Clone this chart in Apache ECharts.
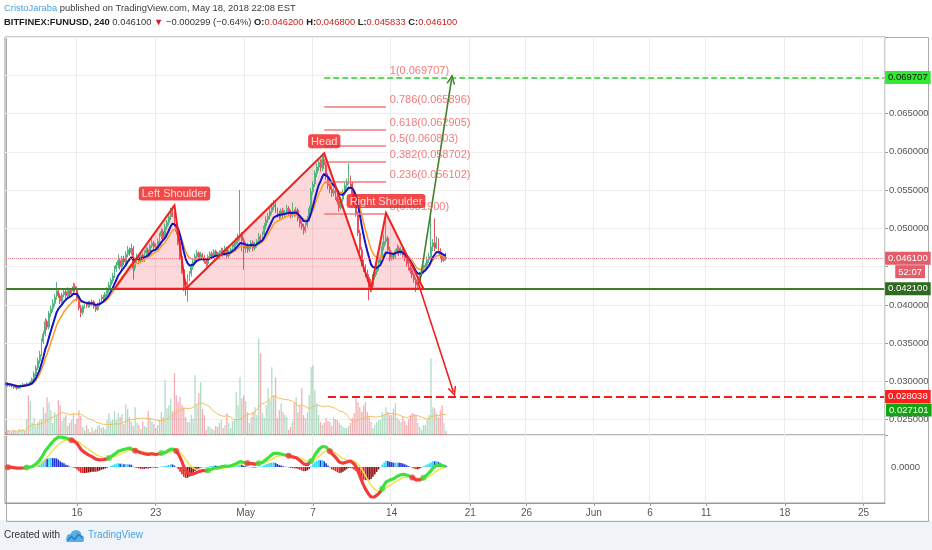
<!DOCTYPE html>
<html lang="en">
<head>
<meta charset="UTF-8">
<title>BITFINEX:FUNUSD 240</title>
<script src="https://cdn.jsdelivr.net/npm/echarts/dist/echarts.min.js"></script>
<style>
    html, body { margin: 0; padding: 0; background: #fff; }
    #main { width: 932px; height: 550px; }
</style>
</head>
<body>
<div id="main"></div>
<script>
// 4h bars, first slot 2018-04-09 16:00
const firstBar = '2018-04-09T16:00:00Z';
const slotCount = 470;
const firstOpen = 0.0298;

const closes = [
    0.0297, 0.0295,
    0.0296, 0.0294, 0.0292, 0.0293, 0.0291, 0.0293,
    0.0294, 0.0296, 0.0295, 0.0297, 0.0296, 0.0299,
    0.0303, 0.0310, 0.0318, 0.0327, 0.0335, 0.0352,
    0.0362, 0.0378, 0.0371, 0.0389, 0.0395, 0.0402,
    0.0410, 0.0418, 0.0412, 0.0405, 0.0413, 0.0417,
    0.0412, 0.0419, 0.0414, 0.0418, 0.0424, 0.0421,
    0.0408, 0.0396, 0.0390, 0.0398, 0.0401, 0.0399,
    0.0402, 0.0400, 0.0404, 0.0398, 0.0394, 0.0401,
    0.0405, 0.0410, 0.0408, 0.0414, 0.0419, 0.0426,
    0.0432, 0.0438, 0.0447, 0.0452, 0.0458, 0.0450,
    0.0461, 0.0456, 0.0466, 0.0472, 0.0468, 0.0474,
    0.0448, 0.0459, 0.0463, 0.0457, 0.0465, 0.0460,
    0.0468, 0.0472, 0.0466, 0.0477, 0.0481, 0.0476,
    0.0474, 0.0483, 0.0490, 0.0496, 0.0488, 0.0502,
    0.0508, 0.0515, 0.0522, 0.0519, 0.0505, 0.0496,
    0.0482, 0.0463, 0.0446, 0.0430, 0.0426, 0.0436,
    0.0441, 0.0450, 0.0456, 0.0463, 0.0468, 0.0461,
    0.0466, 0.0462, 0.0457, 0.0454, 0.0463, 0.0467,
    0.0464, 0.0470, 0.0466, 0.0462, 0.0468, 0.0471,
    0.0467, 0.0473, 0.0464, 0.0469, 0.0472, 0.0476,
    0.0479, 0.0483, 0.0488, 0.0492, 0.0484, 0.0474,
    0.0478, 0.0472, 0.0476, 0.0481, 0.0474, 0.0479,
    0.0483, 0.0489, 0.0486, 0.0492, 0.0503, 0.0511,
    0.0516, 0.0522, 0.0528, 0.0531, 0.0524, 0.0519,
    0.0516, 0.0523, 0.0518, 0.0521, 0.0526, 0.0520,
    0.0517, 0.0522, 0.0519, 0.0524, 0.0513, 0.0506,
    0.0502, 0.0497, 0.0504, 0.0512, 0.0526, 0.0548,
    0.0558, 0.0572, 0.0580, 0.0586, 0.0579, 0.0590,
    0.0583, 0.0568, 0.0556, 0.0551, 0.0546, 0.0549,
    0.0541, 0.0535, 0.0527, 0.0538, 0.0547, 0.0556,
    0.0561, 0.0566, 0.0558, 0.0545, 0.0533, 0.0519,
    0.0494, 0.0472, 0.0455, 0.0448, 0.0441, 0.0436,
    0.0429, 0.0424, 0.0437, 0.0443, 0.0449, 0.0455,
    0.0461, 0.0476, 0.0483, 0.0487, 0.0472, 0.0462,
    0.0466, 0.0463, 0.0470, 0.0474, 0.0468, 0.0472,
    0.0465, 0.0461, 0.0454, 0.0449, 0.0445, 0.0439,
    0.0433, 0.0426, 0.0431, 0.0440, 0.0444, 0.0449,
    0.0452, 0.0459, 0.0463, 0.0476, 0.0481, 0.0474,
    0.0484, 0.0470, 0.0465, 0.0458, 0.0462, 0.0461
];
const highs = [
    0.0300, 0.0299,
    0.0298, 0.0297, 0.0295, 0.0295, 0.0294, 0.0295,
    0.0296, 0.0298, 0.0297, 0.0299, 0.0298, 0.0301,
    0.0305, 0.0313, 0.0321, 0.0331, 0.0340, 0.0356,
    0.0366, 0.0383, 0.0381, 0.0392, 0.0399, 0.0407,
    0.0414, 0.0430, 0.0421, 0.0415, 0.0416, 0.0422,
    0.0420, 0.0423, 0.0422, 0.0421, 0.0429, 0.0428,
    0.0424, 0.0411, 0.0400, 0.0400, 0.0404, 0.0404,
    0.0405, 0.0405, 0.0407, 0.0406, 0.0401, 0.0403,
    0.0408, 0.0413, 0.0413, 0.0417, 0.0423, 0.0430,
    0.0435, 0.0442, 0.0451, 0.0456, 0.0466, 0.0461,
    0.0464, 0.0464, 0.0470, 0.0477, 0.0475, 0.0480,
    0.0477, 0.0462, 0.0467, 0.0466, 0.0468, 0.0468,
    0.0471, 0.0476, 0.0475, 0.0480, 0.0486, 0.0484,
    0.0480, 0.0487, 0.0494, 0.0500, 0.0499, 0.0506,
    0.0511, 0.0519, 0.0527, 0.0529, 0.0521, 0.0508,
    0.0499, 0.0486, 0.0467, 0.0450, 0.0434, 0.0440,
    0.0444, 0.0454, 0.0460, 0.0467, 0.0472, 0.0470,
    0.0469, 0.0468, 0.0465, 0.0460, 0.0466, 0.0470,
    0.0470, 0.0473, 0.0472, 0.0469, 0.0471, 0.0475,
    0.0474, 0.0477, 0.0476, 0.0472, 0.0475, 0.0480,
    0.0482, 0.0487, 0.0493, 0.0550, 0.0495, 0.0488,
    0.0482, 0.0481, 0.0479, 0.0485, 0.0484, 0.0483,
    0.0486, 0.0494, 0.0492, 0.0496, 0.0507, 0.0516,
    0.0520, 0.0527, 0.0533, 0.0537, 0.0534, 0.0527,
    0.0523, 0.0526, 0.0527, 0.0524, 0.0531, 0.0529,
    0.0524, 0.0534, 0.0525, 0.0528, 0.0527, 0.0516,
    0.0510, 0.0506, 0.0507, 0.0516, 0.0530, 0.0553,
    0.0562, 0.0576, 0.0585, 0.0592, 0.0590, 0.0598,
    0.0595, 0.0587, 0.0572, 0.0560, 0.0555, 0.0553,
    0.0553, 0.0545, 0.0539, 0.0541, 0.0551, 0.0560,
    0.0565, 0.0585, 0.0569, 0.0561, 0.0548, 0.0536,
    0.0522, 0.0498, 0.0476, 0.0459, 0.0453, 0.0446,
    0.0440, 0.0434, 0.0440, 0.0447, 0.0452, 0.0459,
    0.0465, 0.0482, 0.0492, 0.0521, 0.0490, 0.0476,
    0.0470, 0.0469, 0.0473, 0.0479, 0.0477, 0.0476,
    0.0475, 0.0469, 0.0464, 0.0457, 0.0452, 0.0448,
    0.0442, 0.0436, 0.0434, 0.0443, 0.0447, 0.0452,
    0.0455, 0.0463, 0.0468, 0.0515, 0.0486, 0.0513,
    0.0490, 0.0487, 0.0474, 0.0469, 0.0464, 0.0468
];
const lows = [
    0.0294, 0.0293,
    0.0293, 0.0292, 0.0290, 0.0291, 0.0289, 0.0290,
    0.0291, 0.0293, 0.0293, 0.0294, 0.0294, 0.0295,
    0.0297, 0.0301, 0.0307, 0.0315, 0.0323, 0.0333,
    0.0349, 0.0359, 0.0367, 0.0368, 0.0384, 0.0391,
    0.0398, 0.0407, 0.0409, 0.0401, 0.0402, 0.0410,
    0.0408, 0.0410, 0.0411, 0.0411, 0.0415, 0.0417,
    0.0405, 0.0393, 0.0384, 0.0387, 0.0395, 0.0396,
    0.0396, 0.0397, 0.0398, 0.0395, 0.0391, 0.0392,
    0.0398, 0.0402, 0.0405, 0.0405, 0.0411, 0.0416,
    0.0422, 0.0428, 0.0435, 0.0443, 0.0448, 0.0446,
    0.0447, 0.0452, 0.0453, 0.0462, 0.0464, 0.0465,
    0.0433, 0.0444, 0.0455, 0.0453, 0.0454, 0.0456,
    0.0456, 0.0464, 0.0463, 0.0463, 0.0474, 0.0472,
    0.0470, 0.0471, 0.0479, 0.0486, 0.0484, 0.0485,
    0.0498, 0.0504, 0.0511, 0.0515, 0.0502, 0.0492,
    0.0478, 0.0459, 0.0441, 0.0418, 0.0412, 0.0404,
    0.0431, 0.0437, 0.0446, 0.0452, 0.0459, 0.0458,
    0.0458, 0.0459, 0.0454, 0.0450, 0.0451, 0.0460,
    0.0461, 0.0461, 0.0463, 0.0459, 0.0459, 0.0465,
    0.0463, 0.0464, 0.0460, 0.0461, 0.0466, 0.0469,
    0.0472, 0.0476, 0.0480, 0.0484, 0.0470, 0.0446,
    0.0468, 0.0468, 0.0469, 0.0473, 0.0470, 0.0471,
    0.0475, 0.0480, 0.0482, 0.0483, 0.0489, 0.0499,
    0.0507, 0.0512, 0.0518, 0.0524, 0.0520, 0.0514,
    0.0511, 0.0513, 0.0514, 0.0514, 0.0518, 0.0516,
    0.0513, 0.0514, 0.0515, 0.0516, 0.0509, 0.0501,
    0.0498, 0.0492, 0.0494, 0.0501, 0.0509, 0.0523,
    0.0544, 0.0554, 0.0567, 0.0575, 0.0574, 0.0575,
    0.0578, 0.0563, 0.0551, 0.0546, 0.0541, 0.0542,
    0.0537, 0.0531, 0.0522, 0.0524, 0.0534, 0.0543,
    0.0552, 0.0557, 0.0554, 0.0541, 0.0529, 0.0515,
    0.0490, 0.0467, 0.0450, 0.0443, 0.0436, 0.0430,
    0.0406, 0.0417, 0.0420, 0.0433, 0.0439, 0.0445,
    0.0451, 0.0457, 0.0471, 0.0479, 0.0468, 0.0457,
    0.0458, 0.0459, 0.0460, 0.0466, 0.0464, 0.0465,
    0.0462, 0.0457, 0.0450, 0.0445, 0.0441, 0.0435,
    0.0429, 0.0417, 0.0420, 0.0428, 0.0437, 0.0441,
    0.0445, 0.0449, 0.0455, 0.0460, 0.0470, 0.0470,
    0.0473, 0.0467, 0.0461, 0.0455, 0.0456, 0.045833
];
const volumes = [
    3, 5,
    4, 3, 5, 4, 3, 6,
    5, 6, 4, 16, 40, 34,
    12, 17, 9, 13, 15, 16,
    28, 22, 38, 33, 25, 12,
    23, 20, 35, 30, 14, 18,
    20, 9, 12, 15, 22, 11,
    16, 25, 19, 8, 5, 10,
    6, 3, 8, 4, 6, 9,
    10, 7, 8, 6, 15, 22,
    14, 15, 24, 15, 22, 18,
    21, 11, 31, 26, 18, 13,
    9, 28, 12, 10, 6, 13,
    9, 8, 24, 16, 13, 11,
    7, 10, 15, 23, 18, 55,
    27, 30, 37, 24, 62, 40,
    33, 38, 30, 28, 18, 13,
    13, 20, 16, 60, 30, 42,
    53, 26, 20, 5, 9, 8,
    6, 5, 9, 8, 12, 15,
    7, 10, 22, 12, 7, 14,
    15, 43, 30, 58, 37, 40,
    34, 23, 12, 18, 23, 28,
    20, 97, 82, 22, 17, 30,
    47, 35, 68, 40, 58, 17,
    25, 32, 23, 20, 18, 5,
    8, 14, 32, 38, 23, 30,
    47, 20, 17, 23, 40, 68,
    70, 45, 32, 20, 13, 10,
    12, 17, 14, 13, 9, 18,
    16, 15, 12, 10, 8, 7,
    7, 9, 12, 17, 22, 37,
    33, 28, 23, 30, 33, 23,
    18, 13, 7, 10, 13, 15,
    15, 23, 20, 28, 23, 20,
    20, 26, 32, 17, 15, 13,
    18, 14, 10, 16, 20, 22,
    21, 20, 12, 8, 5, 10,
    10, 15, 20, 77, 28, 27,
    22, 18, 25, 30, 12, 4
];

const tickDays = ['2018-04-16', '2018-04-23', '2018-05-01', '2018-05-07', '2018-05-14', '2018-05-21',
    '2018-05-26', '2018-06-01', '2018-06-06', '2018-06-11', '2018-06-18', '2018-06-25'];
const tickLabels = ['16', '23', 'May', '7', '14', '21', '26', 'Jun', '6', '11', '18', '25'];

// drawings: [slot index, price]
const patternPts = [[58, 0.0421], [90, 0.0530], [96, 0.0421], [170, 0.0598], [195, 0.0421], [203, 0.0520], [223, 0.0421]];
const patternNames = ['', 'Left Shoulder', '', 'Head', '', 'Right Shoulder', ''];
const fibLevels = [0, 0.236, 0.382, 0.5, 0.618, 0.786, 1];
const fibPrices = [0.051900, 0.056102, 0.058702, 0.060803, 0.062905, 0.065896, 0.069707];
const fibFrom = 170, fibTo = 203, fibLabelAt = 205;
const neckline = 0.0421;
const targetDown = 0.028038, targetDownFrom = 172;
const extraBadge = 0.027101;
const arrowUp = [[221, 0.04286], [238, 0.06951]];
const arrowDown = [[220, 0.0430], [239, 0.02862]];

const FONT = '"Liberation Sans", Arial, sans-serif';
const UP = '#52b47f', DOWN = '#e8505e';
const LIME = '#3ee23e', RED = '#f23b3b';
const CLEAR = 'rgba(0,0,0,0)';

const t0 = Date.parse(firstBar);
const H4 = 4 * 3600 * 1000;
const cats = [];
for (let i = 0; i < slotCount; i++) {
    cats.push(new Date(t0 + i * H4).toISOString().slice(0, 16).replace('T', ' '));
}
const labelAt = {};
tickDays.forEach(function (d, j) {
    labelAt[Math.round((Date.parse(d + 'T00:00:00Z') - t0) / H4)] = tickLabels[j];
});
const isTick = function (i) { return labelAt[i] !== undefined; };

const opens = closes.map(function (c, i) { return i === 0 ? firstOpen : closes[i - 1]; });
const ohlc = closes.map(function (c, i) { return [opens[i], c, lows[i], highs[i]]; });
const lastSlot = slotCount - 1;
const lastClose = closes[closes.length - 1];

function ema(src, n) {
    const k = 2 / (n + 1), out = [];
    src.forEach(function (v, i) { out.push(i === 0 ? v : v * k + out[i - 1] * (1 - k)); });
    return out;
}
function sma(src, n) {
    return src.map(function (v, i) {
        const s = src.slice(Math.max(0, i - n + 1), i + 1);
        return s.reduce(function (a, b) { return a + b; }, 0) / s.length;
    });
}

const emaFast = ema(closes, 8);
const emaSlow = ema(closes, 13);
const volMa = sma(volumes, 20);
const ema12 = ema(closes, 12), ema26 = ema(closes, 26);
const macd = ema12.map(function (v, i) { return v - ema26[i]; });
const signal = ema(macd, 9);
const hist = macd.map(function (m, i) { return m - signal[i]; });

// macd pane scale, zero placed like the reference
const allM = macd.concat(signal, hist);
const mMax = Math.max.apply(null, allM), mMin = Math.min.apply(null, allM);
const K = Math.max(mMax / 30, -mMin / 34);

const macdUp = macd.map(function (m, i) { return m >= signal[i]; });
const macdPieces = [];
let runStart = 0;
for (let i = 1; i <= macd.length; i++) {
    if (i === macd.length || macdUp[i] !== macdUp[runStart]) {
        macdPieces.push({ gte: runStart - 0.5, lt: i - 0.5, color: macdUp[runStart] ? LIME : RED });
        runStart = i;
    }
}
const crossDots = [];
for (let i = 1; i < macd.length; i++) {
    if (macdUp[i] !== macdUp[i - 1]) {
        crossDots.push({ value: [i, macd[i]], itemStyle: { color: macdUp[i] ? LIME : RED } });
    }
}
const histData = hist.map(function (h, i) {
    const prev = i === 0 ? 0 : hist[i - 1];
    let c;
    if (h > 0) c = h >= prev ? '#2fd8f5' : '#2233d6';
    else c = h <= prev ? '#f02020' : '#8b1010';
    return { value: h, itemStyle: { color: c } };
});
const volData = volumes.map(function (v, i) {
    return { value: v, itemStyle: { color: closes[i] >= opens[i] ? 'rgba(82,180,127,0.45)' : 'rgba(232,80,94,0.45)' } };
});

function badge(text, bg, fg) {
    return {
        show: true, position: 'end', distance: 1, formatter: text,
        backgroundColor: bg, color: fg, padding: [2, 3, 1, 3],
        fontSize: 9.5, fontFamily: FONT
    };
}
// horizontal line across the whole price pane, drawn through data coords
function hLine(price, lineStyle, label) {
    return [
        { coord: [0, price], lineStyle: lineStyle, label: label },
        { coord: [lastSlot, price] }
    ];
}
const chevron = 'path://M0,10 L5,0 L10,10 L8.2,10 L5,3.6 L1.8,10 Z';

const levelLines = [
    hLine(neckline, { color: '#3d7f2a', width: 2, type: 'solid' }, badge('0.042100', '#2e6b1f', '#fff')),
    hLine(lastClose, { color: '#f07f8a', width: 1, type: 'dotted' }, badge(lastClose.toFixed(6), '#e35d6a', '#fff')),
    [
        { coord: [targetDownFrom, targetDown], lineStyle: { color: '#f21a1a', width: 2, type: 'dashed' }, label: badge(targetDown.toFixed(6), '#ff1e1e', '#fff') },
        { coord: [lastSlot, targetDown] }
    ]
];
const fibLines = fibPrices.map(function (p, j) {
    if (fibLevels[j] === 1) {
        return [
            { coord: [fibFrom, p], lineStyle: { color: '#25d425', width: 1.5, type: 'dashed' }, label: badge(p.toFixed(6), '#33e833', '#111') },
            { coord: [lastSlot, p] }
        ];
    }
    return [
        { coord: [fibFrom, p], lineStyle: { color: '#ef7b7b', width: 1.5, type: 'solid' }, label: { show: false } },
        { coord: [fibTo, p] }
    ];
});
const arrows = [
    [{ coord: arrowUp[0], lineStyle: { color: '#42802c', width: 1.6, type: 'solid' } },
     { coord: arrowUp[1], symbol: chevron, symbolSize: [9, 10] }],
    [{ coord: arrowDown[0], lineStyle: { color: '#f21f1f', width: 1.6, type: 'solid' } },
     { coord: arrowDown[1], symbol: chevron, symbolSize: [9, 10] }]
];

const xBase = {
    type: 'category', data: cats, boundaryGap: true,
    splitLine: { show: true, interval: isTick, lineStyle: { color: '#ececec', width: 1 } }
};

const series = [
    {
        name: 'pattern fill', type: 'custom', xAxisIndex: 0, yAxisIndex: 0, z: 1, silent: true,
        data: [patternPts[0]],
        renderItem: function (params, api) {
            return { type: 'polygon', shape: { points: patternPts.map(function (p) { return api.coord(p); }) },
                style: { fill: 'rgba(242,60,70,0.2)', stroke: 'none' } };
        }
    },
    {
        name: 'Volume', type: 'bar', xAxisIndex: 0, yAxisIndex: 1, z: 1, barWidth: '70%',
        data: volData
    },
    {
        name: 'Vol MA', type: 'line', xAxisIndex: 0, yAxisIndex: 1, z: 2, showSymbol: false,
        data: volMa, lineStyle: { color: '#f5bd63', width: 1 }
    },
    {
        name: 'FUNUSD', type: 'candlestick', xAxisIndex: 0, yAxisIndex: 0, z: 3, barWidth: '70%',
        data: ohlc,
        itemStyle: { color: UP, color0: DOWN, borderColor: UP, borderColor0: DOWN, borderWidth: 1 }
    },
    {
        name: 'EMA slow', type: 'line', xAxisIndex: 0, yAxisIndex: 0, z: 4, showSymbol: false,
        data: emaSlow, lineStyle: { color: '#ff9a1f', width: 1.5 }
    },
    {
        name: 'EMA fast', type: 'line', xAxisIndex: 0, yAxisIndex: 0, z: 4, showSymbol: false,
        data: emaFast, lineStyle: { color: '#1414c8', width: 2 }
    },
    {
        name: 'levels', type: 'line', xAxisIndex: 0, yAxisIndex: 0, z: 5, data: [],
        markLine: { silent: true, symbol: ['none', 'none'], label: { show: false }, data: levelLines.concat(fibLines, arrows) }
    },
    {
        name: 'pattern outline', type: 'custom', xAxisIndex: 0, yAxisIndex: 0, z: 10, silent: true,
        data: [patternPts[0]],
        renderItem: function (params, api) {
            return { type: 'polygon', shape: { points: patternPts.map(function (p) { return api.coord(p); }) },
                style: { fill: 'none', stroke: '#f21f1f', lineWidth: 2 } };
        }
    },
    {
        name: 'fib labels', type: 'scatter', xAxisIndex: 0, yAxisIndex: 0, z: 11, symbolSize: 0, silent: true,
        data: fibPrices.map(function (p, j) { return { value: [fibLabelAt, p], name: fibLevels[j] + '(' + p.toFixed(6) + ')' }; }),
        label: { show: true, position: 'right', distance: 0, offset: [0, -7], formatter: '{b}', color: '#ee5a5a', fontSize: 11, fontFamily: FONT }
    },
    {
        name: 'pattern labels', type: 'scatter', xAxisIndex: 0, yAxisIndex: 0, z: 12, symbolSize: 0, silent: true,
        data: patternPts.map(function (p, j) { return { value: p, name: patternNames[j] }; })
            .filter(function (d) { return d.name; }),
        label: { show: true, position: 'top', distance: 5, formatter: '{b}', color: '#fff', backgroundColor: '#f21c1c',
            padding: [2, 3, 1, 3], borderRadius: 3, fontSize: 11, fontFamily: FONT }
    },
    {
        name: 'Histogram', type: 'bar', xAxisIndex: 1, yAxisIndex: 2, barWidth: '85%', data: histData,
        markLine: { silent: true, symbol: ['none', 'none'],
            data: [[
                { coord: [0, 0], lineStyle: { color: CLEAR, width: 1 },
                  label: { show: true, position: 'end', distance: 7, formatter: '0.0000', color: '#555', fontSize: 9.5, fontFamily: FONT } },
                { coord: [lastSlot, 0] }
            ]] }
    },
    {
        name: 'Signal', type: 'line', xAxisIndex: 1, yAxisIndex: 2, showSymbol: false, z: 3,
        data: signal, lineStyle: { color: '#f3e34c', width: 1.5 }
    },
    {
        name: 'MACD', type: 'line', xAxisIndex: 1, yAxisIndex: 2, showSymbol: false, z: 4,
        data: macd, lineStyle: { width: 3.2 }
    },
    {
        name: 'Cross', type: 'scatter', xAxisIndex: 1, yAxisIndex: 2, z: 5, symbolSize: 6, data: crossDots
    }
];
const macdSeriesIndex = series.findIndex(function (s) { return s.name === 'MACD'; });

const option = {
    animation: false,
    backgroundColor: '#fff',
    textStyle: { fontFamily: FONT },
    grid: [
        { left: 5, right: 47, top: 37, height: 398, show: true, borderColor: '#999', borderWidth: 1, outerBoundsMode: 'none' },
        { left: 5, right: 47, top: 435, height: 68, show: true, borderColor: '#999', borderWidth: 1, outerBoundsMode: 'none' }
    ],
    xAxis: [
        Object.assign({}, xBase, { gridIndex: 0, axisLine: { show: false }, axisTick: { show: false }, axisLabel: { show: false } }),
        Object.assign({}, xBase, {
            gridIndex: 1,
            axisLine: { show: true, onZero: false, lineStyle: { color: '#999' } },
            axisTick: { show: true, interval: isTick, alignWithLabel: true, length: 3, lineStyle: { color: '#999' } },
            axisLabel: { interval: isTick, formatter: function (v, i) { return labelAt[i] || ''; }, color: '#555', fontSize: 10, margin: 5 }
        })
    ],
    yAxis: [
        {
            gridIndex: 0, type: 'value', position: 'right', min: 0.023, max: 0.075, splitNumber: 10,
            axisLine: { show: false },
            axisTick: { show: true, length: 3, lineStyle: { color: '#999' } },
            axisLabel: {
                color: '#555', fontSize: 9.5, margin: 4,
                formatter: function (v) {
                    if (v < 0.0245 || v > 0.0695 || Math.abs(v - 0.045) < 1e-6) return '';
                    return v.toFixed(6);
                }
            },
            splitLine: { show: true, lineStyle: { color: '#eeeeee' } }
        },
        { gridIndex: 0, type: 'value', min: 0, max: 400, show: false },
        { gridIndex: 1, type: 'value', min: -36 * K, max: 32 * K, show: false }
    ],
    visualMap: [{
        type: 'piecewise', show: false, seriesIndex: macdSeriesIndex, dimension: 0,
        pieces: macdPieces, outOfRange: { color: LIME }
    }],
    graphic: [
        { id: 'footer', type: 'rect', left: 0, top: 520, shape: { width: 932, height: 30 }, style: { fill: '#f0f3f7' }, z: -10 },
        { id: 'frame', type: 'rect', left: 4, top: 35, shape: { x: 0.5, y: 0.5, width: 922, height: 484 },
            style: { fill: 'none', stroke: '#aaaaaa', lineWidth: 1 }, z: -5 },
        { id: 'line1', type: 'text', left: 4, top: 4, style: {
            text: '{u|CristoJaraba} published on TradingView.com, May 18, 2018 22:08 EST',
            rich: { u: { fill: '#4aa3df', fontSize: 9.4, fontFamily: FONT } },
            fill: '#3a3a3a', fontSize: 9.4, fontFamily: FONT } },
        { id: 'line2', type: 'text', left: 4, top: 18, style: {
            text: '{b|BITFINEX:FUNUSD, 240} 0.046100 {r|\u25BC} \u22120.000299 (\u22120.64%) {b|O:}{r|0.046200} {b|H:}{r|0.046800} {b|L:}{r|0.045833} {b|C:}{r|0.046100}',
            rich: {
                b: { fill: '#222', fontWeight: 'bold', fontSize: 9.4, fontFamily: FONT },
                r: { fill: '#cc2020', fontSize: 9.4, fontFamily: FONT }
            },
            fill: '#333', fontSize: 9.4, fontFamily: FONT } },
        { id: 'created', type: 'text', left: 4, top: 530, style: { text: 'Created with', fill: '#333', fontSize: 10, fontFamily: FONT } },
        { id: 'logo', type: 'group', left: 65, top: 530, children: [
            { type: 'circle', shape: { cx: 5, cy: 8, r: 4 }, style: { fill: '#5aaee6' } },
            { type: 'circle', shape: { cx: 10.5, cy: 5.5, r: 5.5 }, style: { fill: '#5aaee6' } },
            { type: 'circle', shape: { cx: 15, cy: 8.5, r: 3.5 }, style: { fill: '#5aaee6' } },
            { type: 'rect', shape: { x: 1, y: 8, width: 17, height: 4 }, style: { fill: '#5aaee6' } },
            { type: 'polyline', shape: { points: [[2, 10.5], [6, 6.5], [9, 9.5], [13, 4.5], [17, 8]] },
                style: { stroke: '#2b7fc4', lineWidth: 1.6, fill: 'none' } }
        ] },
        { id: 'tvname', type: 'text', left: 88, top: 530, style: { text: 'TradingView', fill: '#4aa3df', fontSize: 10, fontFamily: FONT } }
    ],
    series: series
};

const chart = echarts.init(document.getElementById('main'));
chart.setOption(option);

// badges that TradingView nudges off their price so they do not overlap
const yLast = chart.convertToPixel({ yAxisIndex: 0 }, lastClose);
const yExtra = chart.convertToPixel({ yAxisIndex: 0 }, extraBadge);
chart.setOption({
    graphic: [
        { id: 'timer', type: 'text', right: 7, top: yLast + 7,
            style: { text: '52:07', fill: '#fff', backgroundColor: '#e35d6a', padding: [2, 3, 1, 3], fontSize: 9.5, fontFamily: FONT } },
        { id: 'extra', type: 'text', left: 886, top: yExtra,
            style: { text: extraBadge.toFixed(6), fill: '#fff', backgroundColor: '#13a313', padding: [2, 3, 1, 3], fontSize: 9.5, fontFamily: FONT } }
    ]
});
</script>
</body>
</html>
